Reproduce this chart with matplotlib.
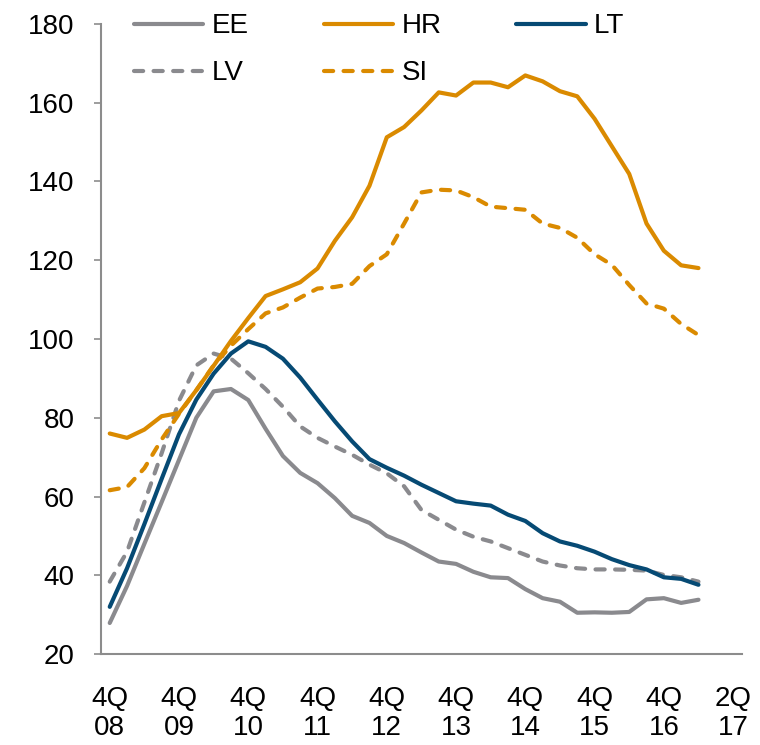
import matplotlib
matplotlib.use("Agg")
import matplotlib.pyplot as plt

# Quartale 4Q08 .. 2Q17
n_quarters = 35
tick_pos = [0, 4, 8, 12, 16, 20, 24, 28, 32, 36]
tick_labels = ["4Q\n08", "4Q\n09", "4Q\n10", "4Q\n11", "4Q\n12",
               "4Q\n13", "4Q\n14", "4Q\n15", "4Q\n16", "2Q\n17"]

ee = [27.9, 37.3, 48.0, 58.6, 69.3, 80.0, 86.7, 87.3, 84.5, 77.2, 70.3, 66.0,
      63.4, 59.6, 55.1, 53.3, 50.0, 48.2, 45.8, 43.5, 42.9, 40.9, 39.5, 39.3,
      36.5, 34.2, 33.3, 30.5, 30.6, 30.5, 30.7, 33.9, 34.2, 33.0, 33.8]
hr = [76.0, 74.9, 77.0, 80.4, 81.2, 87.0, 93.2, 99.5, 105.3, 110.9, 112.6, 114.4,
      117.9, 124.9, 130.9, 138.9, 151.2, 153.8, 158.0, 162.6, 161.8, 165.1, 165.1,
      163.9, 166.9, 165.4, 162.9, 161.6, 155.9, 148.9, 141.9, 129.3, 122.4, 118.7, 118.0]
lt = [32.0, 41.8, 53.0, 64.5, 75.8, 84.6, 91.2, 96.3, 99.4, 98.0, 95.0, 90.2,
      84.6, 79.1, 74.0, 69.5, 67.3, 65.3, 63.0, 60.9, 58.8, 58.2, 57.7, 55.4,
      53.8, 50.7, 48.6, 47.5, 46.0, 44.1, 42.6, 41.5, 39.5, 39.1, 37.6]
lv = [38.4, 46.0, 58.5, 71.0, 84.3, 93.3, 96.3, 95.0, 91.3, 87.3, 82.8, 77.8,
      74.9, 72.7, 70.6, 68.1, 65.9, 62.6, 56.6, 54.1, 51.6, 49.8, 48.6, 46.9,
      45.2, 43.5, 42.5, 41.8, 41.5, 41.5, 41.4, 41.2, 40.1, 39.5, 38.4]
si = [61.6, 62.4, 67.2, 74.5, 81.0, 87.0, 93.3, 98.3, 102.5, 106.5, 108.0, 110.5,
      112.8, 113.2, 114.0, 118.5, 121.5, 129.3, 137.2, 137.9, 137.7, 136.0, 133.6,
      133.2, 132.8, 129.3, 128.2, 125.7, 121.5, 118.8, 113.7, 109.0, 107.7, 103.8, 101.0]

GRAY = "#8a8a8e"
ORANGE = "#da8a00"
NAVY = "#064a74"

plt.rcParams["font.family"] = ["Liberation Sans", "DejaVu Sans"]
plt.rcParams["font.size"] = 20

fig = plt.figure(figsize=(7.6, 7.45), dpi=100)
ax = fig.add_axes([0.133, 0.122, 0.843, 0.846])

x = list(range(n_quarters))
dash = (0, (2.2, 2.5))
lines = {}
lines["EE"], = ax.plot(x, ee, color=GRAY, lw=3, solid_capstyle="round")
lines["LV"], = ax.plot(x, lv, color=GRAY, lw=3, linestyle=dash, dash_capstyle="round")
lines["HR"], = ax.plot(x, hr, color=ORANGE, lw=3, solid_capstyle="round")
lines["SI"], = ax.plot(x, si, color=ORANGE, lw=3, linestyle=dash, dash_capstyle="round")
lines["LT"], = ax.plot(x, lt, color=NAVY, lw=3, solid_capstyle="round")

ax.set_xlim(-0.5, 36.5)
ax.set_ylim(20, 180)
ax.set_yticks(range(20, 181, 20))
ax.set_xticks(tick_pos)
ax.set_xticklabels(tick_labels, linespacing=1.15)

for side in ["top", "right"]:
    ax.spines[side].set_visible(False)
for side in ["left", "bottom"]:
    ax.spines[side].set_color("#8c8c8c")
    ax.spines[side].set_linewidth(1.5)
ax.tick_params(axis="y", length=5, width=1.2, color="#8c8c8c", pad=14)
ax.tick_params(axis="x", length=0, pad=23)

order = ["EE", "LV", "HR", "SI", "LT"]
fig.legend([lines[k] for k in order], order, ncol=3, loc="upper left",
           bbox_to_anchor=(0.176, 0.982), frameon=False, handlelength=2.5,
           handletextpad=0.3, columnspacing=2.7, labelspacing=0.75,
           borderpad=0, borderaxespad=0)

plt.savefig("out.png", dpi=100)
